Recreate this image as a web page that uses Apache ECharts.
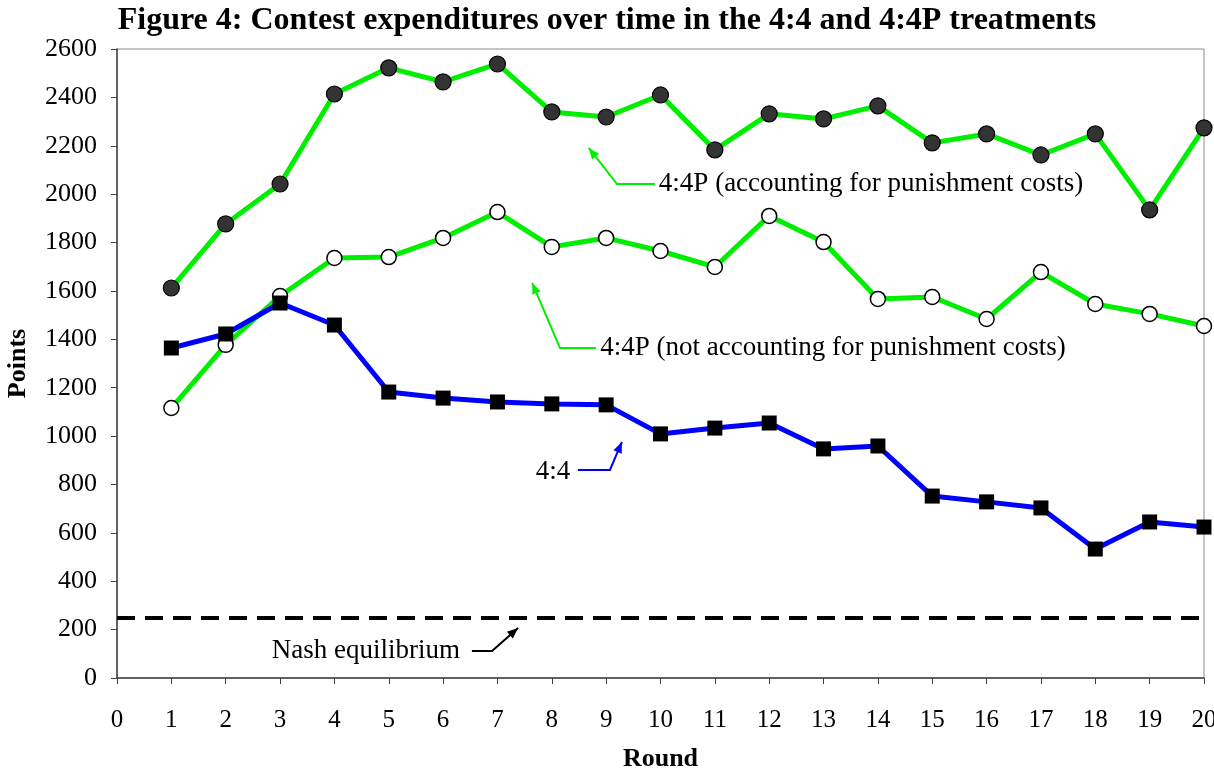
<!DOCTYPE html>
<html>
<head>
<meta charset="utf-8">
<script src="https://cdn.jsdelivr.net/npm/echarts@6/dist/echarts.min.js"></script>
<style>
html,body{margin:0;padding:0;background:#fff;}
#chart{width:1214px;height:770px;}
</style>
</head>
<body>
<div id="chart"></div>
<script>
const rounds = [1,2,3,4,5,6,7,8,9,10,11,12,13,14,15,16,17,18,19,20];
const withPunish = [1612,1877,2042,2414,2522,2464,2538,2340,2319,2410,2183,2332,2311,2365,2212,2249,2162,2249,1935,2274];
const noPunish = [1116,1377,1579,1736,1740,1819,1926,1782,1819,1765,1699,1910,1802,1567,1575,1484,1678,1546,1505,1455];
const base44 = [1364,1422,1550,1459,1182,1157,1141,1133,1129,1009,1033,1054,947,959,752,728,703,533,645,624];
const nashValue = 250;
const titleText = 'Figure 4: Contest expenditures over time in the 4:4 and 4:4P treatments';

// annotations in data coordinates: text anchor, elbow start, elbow corner, arrow tip
const annotations = [
  {text:'4:4P (accounting for punishment costs)', color:'#00ee00', align:'left', at:[9.97,2042], path:[[9.9,2042],[9.2,2042],[8.68,2191]]},
  {text:'4:4P (not accounting for punishment costs)', color:'#00ee00', align:'left', at:[8.89,1364], path:[[8.81,1364],[8.15,1364],[7.64,1633]]},
  {text:'4:4', color:'#0000ff', align:'right', at:[8.34,852], path:[[8.48,860],[9.07,860],[9.29,976]]},
  {text:'Nash equilibrium', color:'#000000', align:'right', at:[6.31,112], path:[[6.53,112],[6.9,112],[7.38,207]]}
];

const font = '"Liberation Serif", "Times New Roman", serif';
const chart = echarts.init(document.getElementById('chart'));
const pair = arr => arr.map((v,i)=>[rounds[i], v]);

chart.setOption({
  animation:false,
  backgroundColor:'#fff',
  title:{text:titleText, left:'center', top:0, textStyle:{fontFamily:font, fontSize:32, fontWeight:'bold', color:'#000'}},
  grid:{left:117, right:10, top:49, bottom:92, show:true, borderColor:'#8c8c8c', borderWidth:1,
    containLabel:false, outerBoundsMode:'none'},
  xAxis:{type:'value', min:0, max:20, interval:1, name:'Round', nameLocation:'middle', nameGap:68,
    nameTextStyle:{fontFamily:font, fontSize:26, fontWeight:'bold', color:'#000'},
    axisLine:{show:true, onZero:false, lineStyle:{color:'#404040', width:1.5}},
    axisTick:{show:true, length:6, lineStyle:{color:'#404040'}},
    axisLabel:{fontFamily:font, fontSize:25, color:'#000', margin:30},
    splitLine:{show:false}},
  yAxis:{type:'value', min:0, max:2600, interval:200, name:'Points', nameLocation:'middle', nameGap:86,
    nameTextStyle:{fontFamily:font, fontSize:26, fontWeight:'bold', color:'#000'},
    axisLine:{show:true, lineStyle:{color:'#404040', width:1.5}},
    axisTick:{show:true, length:6, lineStyle:{color:'#404040'}},
    axisLabel:{fontFamily:font, fontSize:26, color:'#000', margin:20, formatter:v=>String(v)},
    splitLine:{show:false}},
  series:[
    {name:'4:4P acc', type:'line', data:pair(withPunish), symbol:'circle', symbolSize:16,
     lineStyle:{color:'#00ee00', width:5}, itemStyle:{color:'#333333', borderColor:'#000', borderWidth:1.2}, z:2},
    {name:'4:4P not', type:'line', data:pair(noPunish), symbol:'circle', symbolSize:15,
     lineStyle:{color:'#00ee00', width:5}, itemStyle:{color:'#ffffff', borderColor:'#000', borderWidth:1.5}, z:3},
    {name:'4:4', type:'line', data:pair(base44), symbol:'rect', symbolSize:15,
     lineStyle:{color:'#0000ff', width:5}, itemStyle:{color:'#000', borderColor:'#000', borderWidth:0}, z:4},
    {name:'Nash', type:'line', data:[], markLine:{silent:true, symbol:['none','none'], label:{show:false},
      lineStyle:{color:'#000', type:[18,10], width:4}, data:[{yAxis:nashValue}]}}
  ]
});

function drawAnnotations(){
  const g = [];
  annotations.forEach(a=>{
    const pts = a.path.map(p=>chart.convertToPixel({gridIndex:0}, p));
    g.push({type:'polyline', shape:{points:pts}, style:{stroke:a.color, lineWidth:2, fill:null}, z:10});
    const tip = pts[pts.length-1], prev = pts[pts.length-2];
    const ang = Math.atan2(tip[1]-prev[1], tip[0]-prev[0]);
    const L = 11, W = 4.5;
    const bx = tip[0]-L*Math.cos(ang), by = tip[1]-L*Math.sin(ang);
    g.push({type:'polygon', shape:{points:[tip,[bx+W*Math.sin(ang), by-W*Math.cos(ang)],[bx-W*Math.sin(ang), by+W*Math.cos(ang)]]},
      style:{fill:a.color}, z:10});
    const tp = chart.convertToPixel({gridIndex:0}, a.at);
    g.push({type:'text', x:tp[0], y:tp[1], style:{text:a.text, font:'27px '+font, fill:'#000', align:a.align, verticalAlign:'middle'}, z:10});
  });
  chart.setOption({graphic:g});
}
drawAnnotations();
</script>
</body>
</html>
